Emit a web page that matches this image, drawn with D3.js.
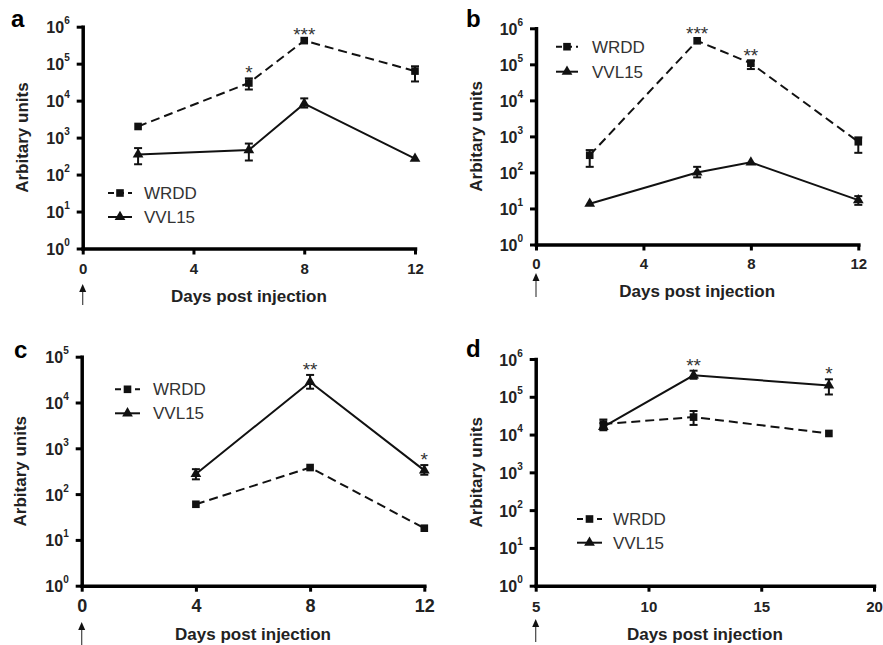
<!DOCTYPE html>
<html>
<head>
<meta charset="utf-8">
<script src="https://cdn.jsdelivr.net/npm/d3@7"></script>
<style>
  body { margin: 0; background: #fff; }
  svg { display: block; font-family: "Liberation Sans", Arial, sans-serif; }
</style>
</head>
<body>
<script>
// ---- data ----
const seriesNames = ["WRDD", "VVL15"]

const daysA = [2, 6, 8, 12]
const wrddA = [2000, 30000, 420000, 63000]
const wrddLoA = [1900, 20000, 390000, 33000]
const wrddHiA = [2100, 40000, 450000, 85000]
const vvlA = [350, 460, 8300, 270]
const vvlLoA = [190, 240, 6500, 255]
const vvlHiA = [520, 690, 11500, 285]
const starsA = [{day: 6, text: "*"}, {day: 8, text: "***"}]

const daysB = [2, 6, 8, 12]
const wrddB = [300, 450000, 107000, 710]
const wrddLoB = [143, 400000, 74000, 350]
const wrddHiB = [417, 500000, 127000, 940]
const vvlB = [13.5, 100, 190, 17]
const vvlLoB = [13, 73, 180, 12.6]
const vvlHiB = [14, 143, 200, 22]
const starsB = [{day: 6, text: "***"}, {day: 8, text: "**"}]

const daysC = [4, 8, 12]
const wrddC = [60, 380, 18]
const wrddLoC = [55, 330, 17]
const wrddHiC = [65, 430, 19]
const vvlC = [275, 28000, 330]
const vvlLoC = [210, 20000, 265]
const vvlHiC = [350, 40000, 430]
const starsC = [{day: 8, text: "**"}, {day: 12, text: "*"}]

const daysD = [8, 12, 18]
const wrddD = [19000, 29000, 10700]
const wrddLoD = [14500, 18000, 10000]
const wrddHiD = [25000, 42000, 11500]
const vvlD = [16000, 370000, 200000]
const vvlLoD = [13000, 300000, 115000]
const vvlHiD = [20000, 490000, 290000]
const starsD = [{day: 12, text: "**"}, {day: 18, text: "*"}]

const xTicksAB = [0, 4, 8, 12]
const xTicksD = [5, 10, 15, 20]

const svg = d3.select("body").append("svg")
    .attr("width", 883)
    .attr("height", 645)

const zip = (days, v, lo, hi) => days.map((d, i) => ({day: d, v: v[i], lo: lo[i], hi: hi[i]}))

const panels = [
  {letter: "a", lx: 11, ly: 27,
   left: 82.7, right: 415, top: 26.7, bottom: 248.5, yMax: 1e6, xDomain: [0, 12], xTicks: xTicksAB,
   xTickFont: 15, xTickBase: 274, titleBase: 302, yTitleX: 22, arrow: [284, 305],
   legend: {x0: 108, x1: 132, y: [193, 217], tx: 144},
   wrdd: zip(daysA, wrddA, wrddLoA, wrddHiA), vvl: zip(daysA, vvlA, vvlLoA, vvlHiA), stars: starsA},
  {letter: "b", lx: 466, ly: 27,
   left: 536, right: 858.3, top: 28.3, bottom: 244.5, yMax: 1e6, xDomain: [0, 12], xTicks: xTicksAB,
   xTickFont: 15, xTickBase: 268.5, titleBase: 297, yTitleX: 476, arrow: [273, 297],
   legend: {x0: 556, x1: 578, y: [46.7, 71.7], tx: 592},
   wrdd: zip(daysB, wrddB, wrddLoB, wrddHiB), vvl: zip(daysB, vvlB, vvlLoB, vvlHiB), stars: starsB},
  {letter: "c", lx: 14, ly: 358,
   left: 81.7, right: 424.3, top: 356.7, bottom: 585.7, yMax: 1e5, xDomain: [0, 12], xTicks: xTicksAB,
   xTickFont: 18, xTickBase: 612.5, titleBase: 639.5, yTitleX: 20, arrow: [622, 645],
   legend: {x0: 115, x1: 140, y: [389.3, 413.3], tx: 153},
   wrdd: zip(daysC, wrddC, wrddLoC, wrddHiC), vvl: zip(daysC, vvlC, vvlLoC, vvlHiC), stars: starsC},
  {letter: "d", lx: 466, ly: 357,
   left: 535.7, right: 874, top: 359, bottom: 585.7, yMax: 1e6, xDomain: [5, 20], xTicks: xTicksD,
   xTickFont: 15, xTickBase: 611.7, titleBase: 639.5, yTitleX: 476, arrow: [619, 642],
   legend: {x0: 577, x1: 602, y: [519, 542.7], tx: 613},
   wrdd: zip(daysD, wrddD, wrddLoD, wrddHiD), vvl: zip(daysD, vvlD, vvlLoD, vvlHiD), stars: starsD}
]

const square = d3.symbol(d3.symbolSquare, 58)
const triangle = d3.symbol(d3.symbolTriangle, 50)

panels.forEach(drawPanel)

function drawPanel(p) {
  const x = d3.scaleLinear().domain(p.xDomain).range([p.left, p.right])
  const y = d3.scaleLog().domain([1, p.yMax]).range([p.bottom, p.top])
  const yTicks = d3.range(0, Math.round(Math.log10(p.yMax)) + 1).map(e => Math.pow(10, e))

  const g = svg.append("g")

  // y axis
  const yAxis = g.append("g")
      .attr("transform", `translate(${p.left},0)`)
      .call(d3.axisLeft(y).tickValues(yTicks).tickSize(6).tickSizeOuter(0).tickFormat(""))
  yAxis.select(".domain").attr("stroke-width", 3.5).attr("stroke-linecap", "square")
  yAxis.selectAll(".tick line").attr("stroke-width", 3)
  yAxis.selectAll(".tick text").each(function(d) {
    const t = d3.select(this)
    t.text(null)
      .attr("x", -13).attr("y", 6).attr("dy", null)
      .attr("text-anchor", "end")
      .attr("font-size", 16).attr("font-weight", "bold")
      .attr("font-family", "Liberation Sans, Arial, sans-serif")
      .attr("fill", "#222")
    t.append("tspan").text("10")
    t.append("tspan").attr("font-size", 10).attr("dy", -9).text(Math.round(Math.log10(d)))
  })

  // x axis
  const xAxis = g.append("g")
      .attr("transform", `translate(0,${p.bottom})`)
      .call(d3.axisBottom(x).tickValues(p.xTicks).tickSize(6).tickSizeOuter(0))
  xAxis.select(".domain").attr("stroke-width", 3.5).attr("stroke-linecap", "square")
  xAxis.selectAll(".tick line").attr("stroke-width", 3)
  xAxis.selectAll(".tick text")
      .attr("y", p.xTickBase - p.bottom).attr("dy", null)
      .attr("font-size", p.xTickFont).attr("font-weight", "bold")
      .attr("font-family", "Liberation Sans, Arial, sans-serif")
      .attr("fill", "#222")

  // axis titles
  g.append("text")
      .attr("x", (p.left + p.right) / 2)
      .attr("y", p.titleBase)
      .attr("text-anchor", "middle")
      .attr("font-size", 17).attr("font-weight", "bold")
      .attr("fill", "#222")
      .text("Days post injection")

  g.append("text")
      .attr("transform", `translate(${p.yTitleX},${(p.top + p.bottom) / 2}) rotate(-90)`)
      .attr("dy", "0.35em")
      .attr("text-anchor", "middle")
      .attr("font-size", 17).attr("font-weight", "bold")
      .attr("fill", "#222")
      .text("Arbitary units")

  // panel letter
  g.append("text")
      .attr("x", p.lx).attr("y", p.ly)
      .attr("font-size", 24).attr("font-weight", "bold")
      .text(p.letter)

  // arrow below the first x tick
  const ax = x(p.xDomain[0])
  g.append("line")
      .attr("x1", ax).attr("x2", ax)
      .attr("y1", p.arrow[0] + 5).attr("y2", p.arrow[1])
      .attr("stroke", "#444").attr("stroke-width", 1.2)
  g.append("path")
      .attr("d", `M${ax},${p.arrow[0]} l-3.5,8 l7,0 Z`)
      .attr("fill", "#111")

  const line = d3.line().x(d => x(d.day)).y(d => y(d.v))

  const series = [
    {name: seriesNames[0], data: p.wrdd, dash: "9,5", sym: square},
    {name: seriesNames[1], data: p.vvl, dash: null, sym: triangle}
  ]

  series.forEach(s => {
    g.append("path")
        .datum(s.data)
        .attr("d", line)
        .attr("fill", "none")
        .attr("stroke", "#111")
        .attr("stroke-width", 2)
        .attr("stroke-dasharray", s.dash)

    // error bars
    const eb = g.append("g").attr("stroke", "#111").attr("stroke-width", 2)
    eb.selectAll(".v").data(s.data).join("line")
        .attr("x1", d => x(d.day)).attr("x2", d => x(d.day))
        .attr("y1", d => y(d.lo)).attr("y2", d => y(d.hi))
    eb.selectAll(".hi").data(s.data.filter(d => y(d.lo) - y(d.hi) > 6)).join("line")
        .attr("x1", d => x(d.day) - 4).attr("x2", d => x(d.day) + 4)
        .attr("y1", d => y(d.hi)).attr("y2", d => y(d.hi))
    eb.selectAll(".lo").data(s.data.filter(d => y(d.lo) - y(d.hi) > 6)).join("line")
        .attr("x1", d => x(d.day) - 4).attr("x2", d => x(d.day) + 4)
        .attr("y1", d => y(d.lo)).attr("y2", d => y(d.lo))

    g.selectAll(null).data(s.data).join("path")
        .attr("transform", d => `translate(${x(d.day)},${y(d.v)})`)
        .attr("d", s.sym)
        .attr("fill", "#111")
  })

  // significance stars above the highest error bar
  g.selectAll(null).data(p.stars).join("text")
      .attr("x", d => x(d.day))
      .attr("y", d => {
        const his = p.wrdd.concat(p.vvl).filter(v => v.day === d.day).map(v => v.hi)
        return y(d3.max(his)) + 1
      })
      .attr("text-anchor", "middle")
      .attr("font-size", 19)
      .attr("fill", "#333")
      .text(d => d.text)

  // legend
  const lg = g.append("g")
  series.forEach((s, i) => {
    const ly = p.legend.y[i]
    lg.append("line")
        .attr("x1", p.legend.x0).attr("x2", p.legend.x1)
        .attr("y1", ly).attr("y2", ly)
        .attr("stroke", "#111").attr("stroke-width", 2)
        .attr("stroke-dasharray", s.dash ? "6,4" : null)
    lg.append("path")
        .attr("transform", `translate(${(p.legend.x0 + p.legend.x1) / 2},${ly})`)
        .attr("d", s.sym)
        .attr("fill", "#111")
    lg.append("text")
        .attr("x", p.legend.tx).attr("y", ly)
        .attr("dy", "0.36em")
        .attr("font-size", 17)
        .attr("fill", "#333")
        .text(s.name)
  })
}
</script>
</body>
</html>
